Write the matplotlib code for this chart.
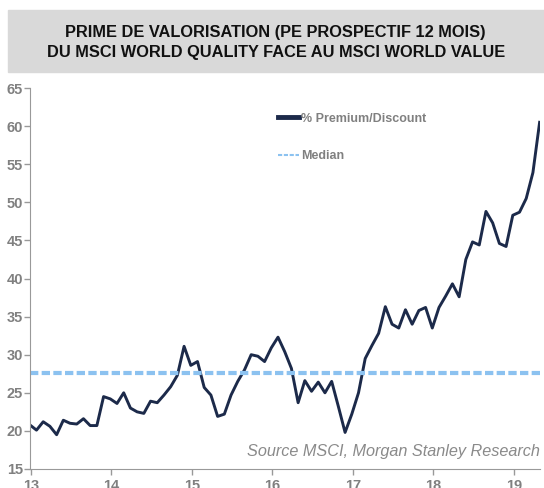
import numpy as np
import matplotlib
matplotlib.use("Agg")
import matplotlib.pyplot as plt
from matplotlib.patches import Rectangle

plt.rcParams['font.family'] = ['Liberation Sans', 'DejaVu Sans']

# monthly premium of MSCI World Quality vs MSCI World Value (%), Jan 2013 onwards
premium = [20.8, 20.1, 21.2, 20.6, 19.5, 21.4, 21.0, 20.9, 21.6, 20.7, 20.7, 24.5,
           24.2, 23.6, 25.0, 23.0, 22.5, 22.3, 23.9, 23.7, 24.7, 25.8, 27.3, 31.1,
           28.6, 29.1, 25.7, 24.7, 21.9, 22.2, 24.7, 26.5, 28.0, 30.0, 29.8, 29.1,
           30.9, 32.3, 30.4, 28.2, 23.7, 26.6, 25.2, 26.4, 25.0, 26.5, 23.2, 19.8,
           22.2, 25.0, 29.5, 31.2, 32.8, 36.3, 34.0, 33.5, 35.9, 34.0, 35.8, 36.2,
           33.5, 36.2, 37.7, 39.3, 37.6, 42.5, 44.8, 44.4, 48.8, 47.3, 44.6, 44.2,
           48.3, 48.7, 50.5, 53.9, 60.5]
median = 27.6
year_ticks = [13, 14, 15, 16, 17, 18, 19]
y_ticks = [15, 20, 25, 30, 35, 40, 45, 50, 55, 60, 65]

months = 12.985 + np.arange(len(premium)) / 12

fig = plt.figure(figsize=(5.44, 4.88), dpi=100)

# grey title band
fig.patches.append(Rectangle((8 / 544, 1 - 72 / 488), 1 - 8 / 544, 62 / 488,
                             transform=fig.transFigure, color='#d9d9d9', zorder=0))
fig.text(0.507, 1 - 32.5 / 488, "PRIME DE VALORISATION (PE PROSPECTIF 12 MOIS)",
         ha='center', va='center', fontsize=11.8, fontweight='bold', color='#111111')
fig.text(0.507, 1 - 52.5 / 488, "DU MSCI WORLD QUALITY FACE AU MSCI WORLD VALUE",
         ha='center', va='center', fontsize=11.8, fontweight='bold', color='#111111')

ax = fig.add_axes([30 / 544, 19 / 488, 510 / 544, 381 / 488])
ax.plot(months, premium, color='#1c2a4a', lw=2.1, label='% Premium/Discount')
ax.axhline(median, color='#8cc2f0', lw=3, ls=(0, (2.0, 0.8)), label='Median')

ax.set_xlim(12.9876, 19.323)
ax.set_ylim(15, 65)
ax.set_xticks(year_ticks)
ax.set_yticks(y_ticks)
ax.set_xticklabels([str(t) for t in year_ticks])
ax.set_yticklabels([str(t) for t in y_ticks])
ax.tick_params(axis='both', colors='#999999', labelcolor='#808080', labelsize=10.5,
               length=4, width=1)
ax.tick_params(axis='y', pad=1)
ax.tick_params(axis='x', pad=3)
for lab in ax.get_xticklabels() + ax.get_yticklabels():
    lab.set_fontweight('bold')

for side in ['top', 'right']:
    ax.spines[side].set_visible(False)
for side in ['left', 'bottom']:
    ax.spines[side].set_color('#999999')

leg = ax.legend(loc='upper left', bbox_to_anchor=(0.486, 0.935), frameon=False,
                borderpad=0, borderaxespad=0, handlelength=1.7, handletextpad=0.15,
                labelspacing=2.05, prop={'size': 9, 'weight': 'bold'})
for t in leg.get_texts():
    t.set_color('#808080')
leg.get_lines()[0].set_linewidth(3.5)
leg.get_lines()[1].set_linewidth(1.5)

ax.text(1.0, 0.045, "Source MSCI, Morgan Stanley Research", transform=ax.transAxes,
        ha='right', va='center', fontsize=11.7, style='italic', color='#8a8a8a')

fig.savefig("out.png", dpi=100)
